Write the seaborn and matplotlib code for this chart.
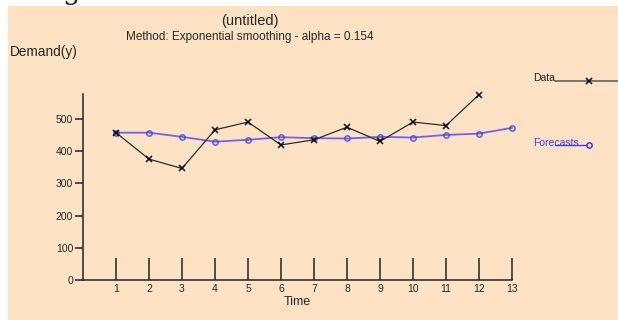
import matplotlib
matplotlib.use("Agg")
import matplotlib.pyplot as plt
import seaborn as sns
import pandas as pd
from matplotlib.lines import Line2D
from matplotlib.patches import Rectangle

# values
periods = [1, 2, 3, 4, 5, 6, 7, 8, 9, 10, 11, 12]
demand = [457, 375, 346, 466, 490, 419, 435, 474, 430, 490, 479, 575]
forecast_periods = [1, 2, 3, 4, 5, 6, 7, 8, 9, 10, 11, 12, 13]
forecasts = [457, 457, 444, 429, 435, 443, 440, 439, 444, 442, 450, 454, 472]
y_ticks = [0, 100, 200, 300, 400, 500]

BG = "#fde3c4"
DATA_COL = "#2b2b2b"
FC_COL = "#3a3aff"

sns.set_theme(style="white")
plt.rcParams["font.family"] = ["Liberation Sans", "DejaVu Sans"]

W, H = 618, 320
fig = plt.figure(figsize=(W / 100, H / 100), dpi=100)
fig.patch.set_facecolor("white")
fig.patches.append(Rectangle((8 / W, 0), 1, (H - 6) / H, transform=fig.transFigure,
                             facecolor=BG, edgecolor="none", zorder=-10))
# bit of a heading cut off by the screenshot
fig.text(72 / W, 1 + 1 / H, "g", fontsize=20, family="DejaVu Serif", ha="center", va="baseline")

ax = fig.add_axes([83 / W, (H - 280) / H, (512 - 83) / W, (280 - 94) / H])
ax.set_facecolor("none")

df_data = pd.DataFrame({"Time": periods, "Demand": demand})
df_fc = pd.DataFrame({"Time": forecast_periods, "Demand": forecasts})

sns.lineplot(data=df_fc, x="Time", y="Demand", ax=ax, color=FC_COL, alpha=0.75, lw=1.3,
             marker="o", markersize=3.8, markerfacecolor="none", markeredgecolor=FC_COL,
             markeredgewidth=1.2, clip_on=False)
sns.lineplot(data=df_data, x="Time", y="Demand", ax=ax, color=DATA_COL, lw=0.9,
             marker="x", markersize=4.5, markeredgecolor="black", markeredgewidth=1.1,
             clip_on=False)

ax.set_xlim(0, 13)
ax.set_ylim(0, 577)
ax.set_xticks(forecast_periods)
ax.set_yticks(y_ticks)
ax.set_xlabel("Time", fontsize=9, labelpad=1)
ax.set_ylabel("")
for s in ["top", "right"]:
    ax.spines[s].set_visible(False)
for s in ["left", "bottom"]:
    ax.spines[s].set_color("#222222")
    ax.spines[s].set_linewidth(1.1)
ax.tick_params(axis="x", direction="in", length=16, width=1.1, color="#222222",
               labelsize=7.5, pad=3, bottom=True)
ax.tick_params(axis="y", direction="out", length=6, width=1.1, color="#222222",
               labelsize=7.5, pad=1, left=True)

fig.text(250 / W, 1 - 21 / H, "(untitled)", fontsize=10.5, ha="center", va="center")
fig.text(250 / W, 1 - 37 / H, "Method: Exponential smoothing - alpha = 0.154",
         fontsize=8.5, ha="center", va="center")
fig.text(10 / W, 1 - 52 / H, "Demand(y)", fontsize=9.8, ha="left", va="center")

# legend at the right edge
fig.text(533 / W, 1 - 78 / H, "Data", fontsize=7.5, ha="left", va="center", color="#222222")
fig.add_artist(Line2D([555 / W, 1.0], [1 - 81 / H] * 2, color="#555555", lw=1.1))
fig.add_artist(Line2D([589 / W], [1 - 81 / H], marker="x", color="black", markersize=4.5,
                      markeredgewidth=1.1))
fig.text(533 / W, 1 - 143 / H, "Forecasts", fontsize=7.5, ha="left", va="center", color=FC_COL)
fig.add_artist(Line2D([555 / W, 587 / W], [1 - 145 / H] * 2, color=FC_COL, lw=1.0))
fig.add_artist(Line2D([589 / W], [1 - 145 / H], marker="o", color=FC_COL, markersize=3.8,
                      markerfacecolor="none", markeredgewidth=1.1))

fig.savefig("out.png", dpi=100)
